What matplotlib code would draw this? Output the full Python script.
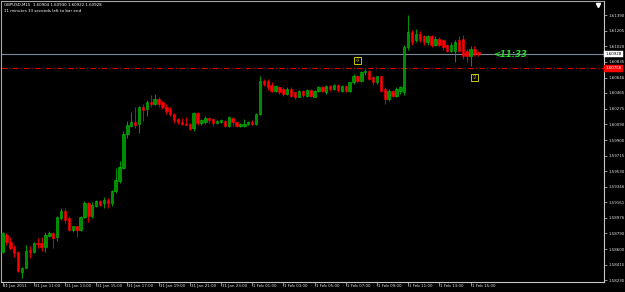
import matplotlib
matplotlib.use('Agg')
import matplotlib.pyplot as plt
import numpy as np
from matplotlib.lines import Line2D

symbol = 'GBPUSD,M15'
header_ohlc = '1.60904 1.60930 1.60922 1.60928'
timer_text = '11 minutes 33 seconds left to bar end'
countdown = '<11:33'

# 15 minute bars, 31 Jan 09:00 .. 1 Feb 15:30
opens = [1.5857, 1.5877, 1.5869, 1.5862, 1.5856, 1.5833, 1.5838, 1.5859, 1.5857, 1.5867,
         1.5867, 1.5863, 1.5876, 1.5879, 1.5874, 1.5897, 1.5906, 1.5897, 1.5883, 1.5887,
         1.5883, 1.5898, 1.5915, 1.5899, 1.5912, 1.5917, 1.5915, 1.5918, 1.5915, 1.5929,
         1.5941, 1.5957, 1.5997, 1.6007, 1.6012, 1.6009, 1.6029, 1.6027, 1.6036, 1.6033,
         1.6039, 1.6035, 1.6029, 1.6027, 1.6021, 1.6015, 1.6012, 1.6009, 1.6009, 1.6005,
         1.6023, 1.6011, 1.6012, 1.6017, 1.6015, 1.6011, 1.6012, 1.6013, 1.6007, 1.6017,
         1.6012, 1.6007, 1.6007, 1.6009, 1.6012, 1.6009, 1.6021, 1.6061, 1.6061, 1.6056,
         1.6049, 1.6054, 1.6051, 1.6045, 1.6051, 1.6047, 1.6042, 1.6049, 1.6043, 1.6050,
         1.6042, 1.6049, 1.6054, 1.6047, 1.6055, 1.6051, 1.6056, 1.6049, 1.6055, 1.6049,
         1.6059, 1.6067, 1.6061, 1.6071, 1.6073, 1.6065, 1.6059, 1.6066, 1.6051, 1.6039,
         1.6049, 1.6043, 1.6049, 1.6047, 1.6101, 1.6119, 1.6109, 1.6117, 1.6114, 1.6107,
         1.6114, 1.6104, 1.6111, 1.6109, 1.6103, 1.6097, 1.6097, 1.6109, 1.6111, 1.6097,
         1.6091, 1.6099, 1.6095]
highs = [1.5880, 1.5879, 1.5875, 1.5865, 1.5858, 1.5839, 1.5865, 1.5864, 1.5868, 1.5873,
         1.5874, 1.5880, 1.5882, 1.5880, 1.5900, 1.5909, 1.5909, 1.5899, 1.5888, 1.5888,
         1.5899, 1.5917, 1.5916, 1.5916, 1.5919, 1.5919, 1.5922, 1.5921, 1.5931, 1.5957,
         1.5965, 1.6001, 1.6013, 1.6024, 1.6029, 1.6031, 1.6033, 1.6038, 1.6044, 1.6045,
         1.6042, 1.6037, 1.6033, 1.6029, 1.6023, 1.6017, 1.6017, 1.6018, 1.6011, 1.6024,
         1.6024, 1.6015, 1.6019, 1.6018, 1.6017, 1.6014, 1.6015, 1.6014, 1.6019, 1.6018,
         1.6013, 1.6011, 1.6015, 1.6013, 1.6014, 1.6023, 1.6066, 1.6063, 1.6063, 1.6059,
         1.6056, 1.6055, 1.6053, 1.6053, 1.6053, 1.6048, 1.6050, 1.6050, 1.6051, 1.6051,
         1.6050, 1.6055, 1.6055, 1.6056, 1.6056, 1.6057, 1.6057, 1.6056, 1.6056, 1.6060,
         1.6069, 1.6068, 1.6073, 1.6075, 1.6074, 1.6066, 1.6067, 1.6067, 1.6054, 1.6051,
         1.6050, 1.6053, 1.6055, 1.6103, 1.6139, 1.6121, 1.6123, 1.6120, 1.6116, 1.6116,
         1.6116, 1.6114, 1.6113, 1.6111, 1.6105, 1.6107, 1.6109, 1.6114, 1.6115, 1.6099,
         1.6102, 1.6102, 1.6097]
lows = [1.5855, 1.5865, 1.5859, 1.5850, 1.5833, 1.5826, 1.5837, 1.5849, 1.5855, 1.5861,
        1.5858, 1.5857, 1.5875, 1.5861, 1.5870, 1.5895, 1.5891, 1.5882, 1.5880, 1.5875,
        1.5882, 1.5897, 1.5892, 1.5897, 1.5910, 1.5911, 1.5909, 1.5909, 1.5912, 1.5927,
        1.5939, 1.5955, 1.5993, 1.6006, 1.6005, 1.5999, 1.6013, 1.6019, 1.6029, 1.6032,
        1.6030, 1.6027, 1.6021, 1.6019, 1.6011, 1.6009, 1.6008, 1.6008, 1.6002, 1.6001,
        1.6008, 1.6008, 1.6009, 1.6011, 1.6007, 1.6009, 1.6011, 1.6006, 1.6006, 1.6007,
        1.6006, 1.6006, 1.6006, 1.6008, 1.6008, 1.6008, 1.6020, 1.6055, 1.6050, 1.6047,
        1.6047, 1.6045, 1.6043, 1.6044, 1.6042, 1.6039, 1.6041, 1.6042, 1.6042, 1.6041,
        1.6041, 1.6048, 1.6047, 1.6045, 1.6049, 1.6050, 1.6048, 1.6048, 1.6047, 1.6048,
        1.6057, 1.6059, 1.6060, 1.6068, 1.6062, 1.6056, 1.6057, 1.6047, 1.6033, 1.6037,
        1.6041, 1.6042, 1.6045, 1.6044, 1.6098, 1.6103, 1.6107, 1.6107, 1.6103, 1.6104,
        1.6101, 1.6102, 1.6102, 1.6098, 1.6095, 1.6095, 1.6083, 1.6095, 1.6087, 1.6083,
        1.6079, 1.6091, 1.6091]
closes = [1.5879, 1.5869, 1.5861, 1.5855, 1.5834, 1.5838, 1.5858, 1.5857, 1.5867, 1.5866,
          1.5863, 1.5877, 1.5879, 1.5873, 1.5898, 1.5906, 1.5895, 1.5883, 1.5887, 1.5883,
          1.5898, 1.5915, 1.5899, 1.5913, 1.5917, 1.5913, 1.5918, 1.5915, 1.5929, 1.5942,
          1.5958, 1.5997, 1.6008, 1.6012, 1.6008, 1.6029, 1.6026, 1.6036, 1.6033, 1.6039,
          1.6033, 1.6029, 1.6025, 1.6021, 1.6014, 1.6012, 1.6009, 1.6008, 1.6003, 1.6023,
          1.6011, 1.6014, 1.6017, 1.6014, 1.6011, 1.6013, 1.6014, 1.6007, 1.6018, 1.6012,
          1.6007, 1.6009, 1.6009, 1.6012, 1.6009, 1.6021, 1.6061, 1.6057, 1.6053, 1.6049,
          1.6055, 1.6047, 1.6045, 1.6051, 1.6043, 1.6042, 1.6049, 1.6044, 1.6050, 1.6043,
          1.6049, 1.6054, 1.6049, 1.6055, 1.6051, 1.6056, 1.6050, 1.6055, 1.6049, 1.6059,
          1.6067, 1.6061, 1.6071, 1.6073, 1.6063, 1.6059, 1.6066, 1.6049, 1.6039, 1.6049,
          1.6043, 1.6051, 1.6054, 1.6101, 1.6119, 1.6107, 1.6117, 1.6109, 1.6107, 1.6114,
          1.6103, 1.6111, 1.6104, 1.6101, 1.6097, 1.6104, 1.6107, 1.6097, 1.6090, 1.6091,
          1.6099, 1.6093, 1.60928]

time_labels = ['31 Jan 2011', '31 Jan 11:00', '31 Jan 13:00', '31 Jan 15:00', '31 Jan 17:00',
               '31 Jan 19:00', '31 Jan 21:00', '31 Jan 23:00', '1 Feb 01:00', '1 Feb 03:00',
               '1 Feb 05:00', '1 Feb 07:00', '1 Feb 09:00', '1 Feb 11:00', '1 Feb 13:00',
               '1 Feb 15:00']
bars_per_label = 8

price_labels = ['1.61390', '1.61205', '1.61020', '1.60835', '1.60646', '1.60465',
                '1.60275', '1.60090', '1.59900', '1.59715', '1.59530', '1.59346',
                '1.59161', '1.58976', '1.58790', '1.58600', '1.58415', '1.58230']

bid_price = 1.60928
level_price = 1.60756
arrow_bars = [91, 121]
arrow_prices = [1.6085, 1.6065]
arrow_glyphs = ['\u21e9', '\u21e7']

W, H = 625, 292
fig = plt.figure(figsize=(W / 100, H / 100), dpi=100, facecolor='black')
left, right, top, bottom = 1.5, 604, 1, 281.5
ax = fig.add_axes([left / W, (H - bottom) / H, (right - left) / W, (bottom - top) / H])
ax.set_facecolor('black')

o = np.array(opens)
c = np.array(closes)
hi = np.array(highs)
lo = np.array(lows)
x = np.arange(len(o))
up = c >= o

wick_col = np.where(up, '#00b000', '#ff0000')
face_col = np.where(up, '#008c00', '#ff0000')
edge_col = np.where(up, '#00c800', '#ff0000')

ax.vlines(x, lo, hi, colors=wick_col, linewidth=0.6, zorder=2)
ax.bar(x, np.maximum(np.abs(c - o), 0.00003), bottom=np.minimum(o, c), width=0.62,
       color=face_col, edgecolor=edge_col, linewidth=0.4, zorder=3)

ax.set_xlim(-0.26, 154.2)
ax.set_ylim(1.58213, 1.61561)

# bid line and dash-dot level
ax.axhline(bid_price, color='#7a8a98', linewidth=0.8, zorder=1)
ax.axhline(level_price, color='#e00000', linewidth=0.8, dashes=(5, 2, 1, 2), zorder=1)

# axes styling
for s in ['left', 'top']:
    ax.spines[s].set_color('#a8a8a8')
    ax.spines[s].set_linewidth(0.8)
for s in ['right', 'bottom']:
    ax.spines[s].set_color('#c8c8c8')
    ax.spines[s].set_linewidth(0.8)

ax.yaxis.tick_right()
ax.set_yticks([float(v) for v in price_labels])
ax.set_yticklabels(price_labels)
ax.tick_params(axis='y', colors='#c8c8c8', labelcolor='#e0e0e0', labelsize=2.9,
               length=2, width=0.5, pad=1)

tick_pos = [i * bars_per_label for i in range(len(time_labels))]
ax.set_xticks(tick_pos)
ax.set_xticklabels([])
ax.tick_params(axis='x', colors='#c8c8c8', length=3, width=0.5)
for pos, lab in zip(tick_pos, time_labels):
    ax.text(pos + 0.25, -0.017, lab, transform=ax.get_xaxis_transform(), ha='left',
            va='center', fontsize=2.9, color='#e0e0e0', clip_on=False)

# price boxes on the axis
ax.text(1.002, bid_price, '1.60928', transform=ax.get_yaxis_transform(), ha='left',
        va='center', fontsize=2.9, color='black', clip_on=False,
        bbox=dict(boxstyle='square,pad=0.35', fc='white', ec='white', lw=0.3))
ax.text(1.002, level_price, '1.60756', transform=ax.get_yaxis_transform(), ha='left',
        va='center', fontsize=2.9, color='white', clip_on=False,
        bbox=dict(boxstyle='square,pad=0.35', fc='#ff0000', ec='#ff0000', lw=0.3))

# countdown next to the last bar
ax.text(125.8, bid_price, countdown, fontsize=6, color='#22e022', fontweight='bold',
        fontstyle='italic', ha='left', va='center')

# signal arrows
for b, p, g in zip(arrow_bars, arrow_prices, arrow_glyphs):
    ax.text(b, p, g, fontsize=4.5, color='#e0e000', ha='center', va='center',
            bbox=dict(boxstyle='square,pad=0.15', fc='black', ec='#c8c800', lw=0.7))

# chart shift marker
ax.plot([152.7], [1.61513], marker='v', color='white', markersize=3, clip_on=False)

# header
fig.text(4 / W, 1 - 5 / H, symbol + '  ' + header_ohlc, fontsize=2.9, color='white',
         ha='left', va='center')
fig.text(4 / W, 1 - 11 / H, timer_text, fontsize=2.9, color='white', ha='left', va='center')

fig.savefig('out.png', dpi=100, facecolor='black')
